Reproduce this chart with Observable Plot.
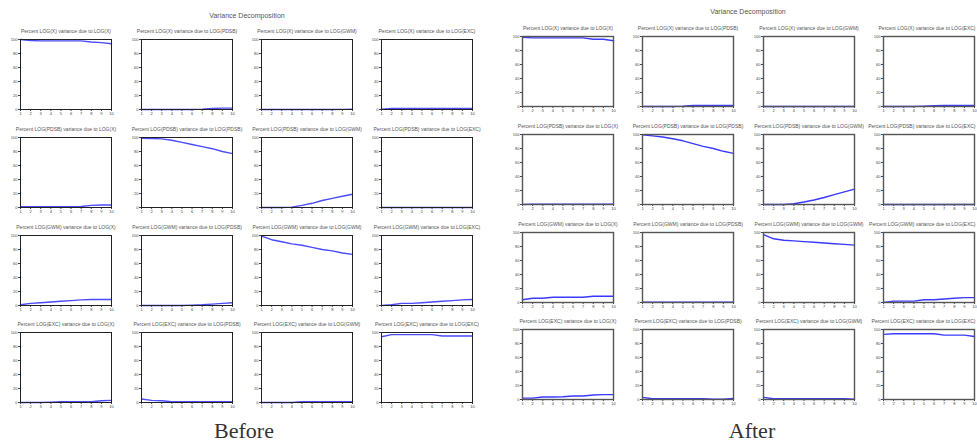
<!DOCTYPE html>
<html><head><meta charset="utf-8">
<script src="https://cdn.jsdelivr.net/npm/d3@7"></script>
<script src="https://cdn.jsdelivr.net/npm/@observablehq/plot@0.6"></script>
<style>
body{margin:0;background:#fff;overflow:hidden}
#root{position:relative;width:977px;height:446px;overflow:hidden;background:#fff}
.p{position:absolute}
.lbl{position:absolute;font-family:"Liberation Serif","DejaVu Serif",serif;font-size:22px;color:#333;transform:translateX(-50%);white-space:nowrap}
.main{position:absolute;font-family:"Liberation Sans",sans-serif;font-size:7px;color:#555;transform:translateX(-50%);white-space:nowrap}
</style></head><body><div id="root"></div>
<script>
const periods = [1,2,3,4,5,6,7,8,9,10];
const variables = ["X","PDSB","GWM","EXC"];
const yTicks = [0,20,40,60,80,100];
const mainTitle = "Variance Decomposition";
const groupLabels = ["Before","After"];

// Before: response LOG(X), columns = due to X, PDSB, GWM, EXC
const before_X    = [[100,98.5,98,98,98,98,98,96.5,95.5,94],[0,0,0,0,0,0,0.5,1.5,2,2],[0,0,0,0,0,0,0,0.1,0.2,0.3],[0.5,1.5,1.5,1.5,1.5,1.5,1.5,1.5,1.5,1.5]];
const before_PDSB = [[1,1,1,1,1,1,1.5,3,3.5,3.5],[99,98.5,98,96,93,90,87,84,80,77],[0,0,0,0.5,3,6,10,13,16,19],[0,0,0,0,0,0,0,0,0,0]];
const before_GWM  = [[1,3,4,5,6,7,8,8.5,8.5,8.5],[0,0,0,0,0,0.5,1,2,3,4],[99,94,91,88,86,83,80,78,75,73],[0,1,3,3,4,5,6,7,8,8.5]];
const before_EXC  = [[0,0,0,0.5,1,1,1,1,2.5,3],[5,3,2.5,1,1,1,1,1,1,1],[0,0,0,0,1,1,1,1,1,1],[94,97,97,97,97,97,95,95,95,95]];
// After
const after_X     = [[99,98,98,98,98,98,98,96,96,94],[0,0,0,0,0.5,1.5,1.5,1.5,1.5,1.5],[0,0,0,0,0,0,0,0,0.1,0.1],[0,0,0,0,0.5,1,1.5,1.5,1.5,1.5]];
const after_PDSB  = [[0,0.5,0.5,0.5,0.5,0.5,0.5,0.5,0.5,0.5],[99.5,98,96.5,94,91,87,83,80,76,73],[0,0,0,1,3.5,6.5,10,14,18,22],[0,0,0,0,0,0,0,0,0,0]];
const after_GWM   = [[4,6,6,7.5,7.5,7.5,7.5,9,9,9],[0.5,0.5,0.5,0.5,0.5,0.5,0.5,0.5,0.5,0.5],[97,91,89,88,87,86,85,84,83,82],[0,2,2,2,4,4,5,6,7,7]];
const after_EXC   = [[2,2,3.5,3.5,4,5,5,6.5,7,7],[3,1,1,1,1,1,1,0.5,0.5,1.5],[3,1,1,1,1,1,1,1,1,0.5],[93,94,94,94,94,94,92,92,92,90]];

const groups = [
  {rows:[before_X,before_PDSB,before_GWM,before_EXC], xs:[20,141,261,381], ys:[39,137,235,332], frame:"#222", fw:1, title:[247,12], label:[244,418], line:"#4a4aff"},
  {rows:[after_X,after_PDSB,after_GWM,after_EXC], xs:[522,642,763,883], ys:[36,134,232,329], frame:"#555", fw:1.4, title:[748,8], label:[752,418], line:"#3a3aff"}
];
const W = 91, H = 70, ML = 18, MR = 4, MT = 14, MB = 12;
const root = document.getElementById("root");

function panel(vals, title, g, edge) {
  const data = periods.map((p, i) => ({p, v: vals[i]}));
  const titleMark = edge
    ? Plot.text([title], {frameAnchor: "top-right", textAnchor: "end", dx: 1, dy: -10, text: d => d, fontSize: 5, fill: "#555"})
    : Plot.text([title], {frameAnchor: "top", dy: -10, text: d => d, fontSize: 5, fill: "#555"});
  return Plot.plot({
    width: W + ML + MR, height: H + MT + MB,
    marginLeft: ML, marginRight: MR, marginTop: MT, marginBottom: MB,
    style: {background: "transparent", fontSize: "4px", fontFamily: "Liberation Sans, sans-serif", color: "#444", overflow: "visible"},
    x: {domain: [1, 10], ticks: periods, tickSize: 2, tickPadding: 1, label: null, tickFormat: d => d},
    y: {domain: [0, 100], ticks: yTicks, tickSize: 2, tickPadding: 1, label: null},
    marks: [
      Plot.line(data, {x: "p", y: "v", stroke: g.line, strokeWidth: 1.4}),
      Plot.frame({stroke: g.frame, strokeWidth: g.fw}),
      titleMark
    ]
  });
}

groups.forEach((g, gi) => {
  const t = document.createElement("div");
  t.className = "main"; t.textContent = mainTitle;
  t.style.left = g.title[0] + "px"; t.style.top = g.title[1] + "px";
  root.appendChild(t);
  g.rows.forEach((row, r) => {
    row.forEach((vals, c) => {
      const title = `Percent LOG(${variables[r]}) variance due to LOG(${variables[c]})`;
      const el = panel(vals, title, g, gi === 1 && c === 3);
      el.classList.add("p");
      el.style.left = (g.xs[c] - ML) + "px";
      el.style.top = (g.ys[r] - MT) + "px";
      root.appendChild(el);
    });
  });
  const l = document.createElement("div");
  l.className = "lbl"; l.textContent = groupLabels[gi];
  l.style.left = g.label[0] + "px"; l.style.top = g.label[1] + "px";
  root.appendChild(l);
});
</script></body></html>
